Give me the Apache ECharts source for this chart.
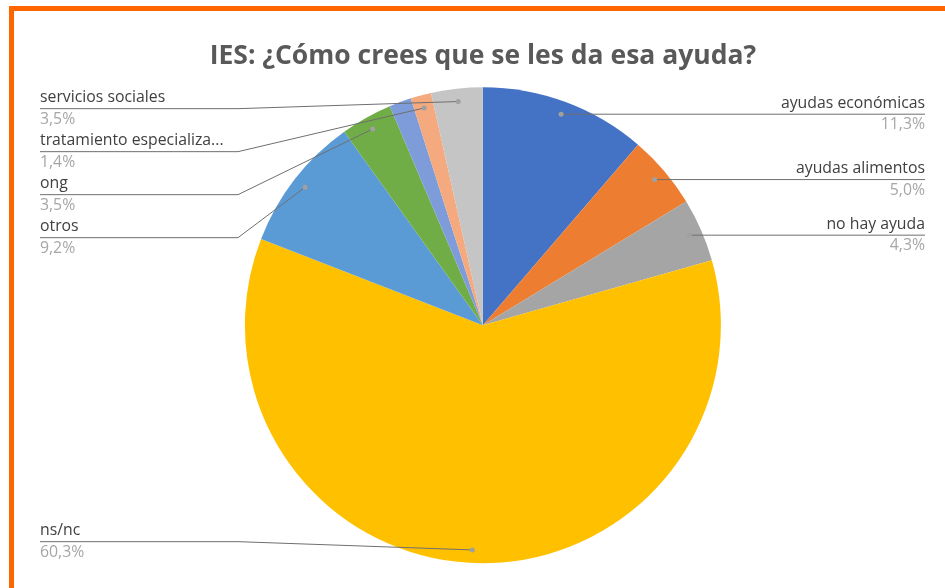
<!DOCTYPE html>
<html>
<head>
<meta charset="utf-8">
<script src="https://cdn.jsdelivr.net/npm/echarts@6/dist/echarts.min.js"></script>
<style>
  html, body { margin: 0; padding: 0; background: #fff; overflow: hidden; }
  #frame { position: absolute; left: 9px; top: 6px; width: 1000px; height: 700px; border: 5px solid #FF6600; box-sizing: border-box; }
  #chart { position: absolute; left: 0; top: 0; width: 945px; height: 588px; }
</style>
</head>
<body>
<div id="frame"></div>
<div id="chart"></div>
<script>
const titleText = 'IES: ¿Cómo crees que se les da esa ayuda?';
const categories = ['ayudas económicas', 'ayudas alimentos', 'no hay ayuda', 'ns/nc', 'otros', 'ong', '', 'tratamiento especializa...', 'servicios sociales'];
const values = [11.3, 5.0, 4.3, 60.3, 9.2, 3.5, 1.5, 1.4, 3.5];
const showLabel = [true, true, true, true, true, true, false, true, true];
const colors = ['#4472C4', '#ED7D31', '#A5A5A5', '#FFC000', '#5B9BD5', '#70AD47', '#7F9CDA', '#F4A97E', '#C5C5C5'];

const W = 945, H = 588;
const LABEL_LH = 21.5;          // line height of each label line
const LEFT_EDGE = 40, RIGHT_EDGE = W - 20, LABEL_BOX = 198, DOT_INSET = 13;

const chart = echarts.init(document.getElementById('chart'), null, { renderer: 'canvas' });

const data = categories.map((name, i) => ({
  name: name,
  value: values[i],
  itemStyle: { color: colors[i] },
  label: { show: showLabel[i] }
}));

const baseOption = {
  backgroundColor: 'transparent',
  animation: false,
  title: {
    text: titleText,
    left: '51.1%',
    textAlign: 'center',
    top: 38,
    padding: [5, 5, 5, 0],
    textStyle: { fontFamily: 'Open Sans', fontWeight: 'bold', fontSize: 26.5, color: '#595959' }
  },
  series: [{
    type: 'pie',
    center: ['51.1%', '55.3%'],
    radius: 238,
    startAngle: 90,
    clockwise: true,
    data: data,
    itemStyle: { borderWidth: 0 },
    label: {
      position: 'outer',
      alignTo: 'edge',
      edgeDistance: 30,
      formatter: p => '{n|' + p.name + '}\n{v|' + p.value.toFixed(1).replace('.', ',') + '%}',
      rich: {
        n: { fontFamily: 'Open Sans', fontSize: 15.8, color: '#404040', lineHeight: LABEL_LH },
        v: { fontFamily: 'Open Sans', fontSize: 15.8, color: '#A6A6A6', lineHeight: LABEL_LH }
      }
    },
    labelLine: { show: false }
  }]
};
chart.setOption(baseOption);

// Read the pie geometry from the library's layout, then place labels Excel-style.
const seriesData = chart.getModel().getSeriesByIndex(0).getData();
const info = [];
let pieTop = 0, pieBottom = H;
for (let i = 0; i < values.length; i++) {
  const l = seriesData.getItemLayout(i);
  const mid = (l.startAngle + l.endAngle) / 2;
  const rr = l.r - DOT_INSET;
  const dot = [l.cx + rr * Math.cos(mid), l.cy + rr * Math.sin(mid)];
  pieTop = l.cy - l.r; pieBottom = l.cy + l.r;
  info.push({ i: i, dot: dot, left: Math.cos(mid) < 0, y: dot[1] });
}
const minC = pieTop + LABEL_LH, maxC = pieBottom - LABEL_LH, gap = 2 * LABEL_LH;
[true, false].forEach(side => {
  const list = info.filter(o => o.left === side && showLabel[o.i]).sort((a, b) => a.dot[1] - b.dot[1]);
  let prev = -Infinity;
  list.forEach(o => { o.y = Math.max(o.dot[1], minC, prev + gap); prev = o.y; });
  let next = Infinity;
  for (let k = list.length - 1; k >= 0; k--) { list[k].y = Math.min(list[k].y, maxC, next - gap); next = list[k].y; }
});
info.forEach(o => {
  o.outer = o.left ? LEFT_EDGE : RIGHT_EDGE;
  const inner = o.left ? LEFT_EDGE + LABEL_BOX : RIGHT_EDGE - LABEL_BOX;
  o.bend = o.left ? Math.min(inner, o.dot[0]) : Math.max(inner, o.dot[0]);
});

const shown = info.filter(o => showLabel[o.i]);
chart.setOption({
  series: [{
    labelLayout: function (params) {
      const o = info[params.dataIndex];
      return { x: o.outer, y: o.y, align: o.left ? 'left' : 'right', verticalAlign: 'middle' };
    }
  }],
  graphic: shown.map(o => ({
    type: 'polyline',
    shape: { points: [o.dot.slice(), [o.bend, o.y], [o.outer, o.y]] },
    style: { stroke: '#6F6F6F', lineWidth: 1, fill: null },
    z: 100
  })).concat(shown.map(o => ({
    type: 'circle',
    shape: { cx: o.dot[0], cy: o.dot[1], r: 2.5 },
    style: { fill: '#A0A0A0' },
    z: 101
  })))
});
</script>
</body>
</html>
